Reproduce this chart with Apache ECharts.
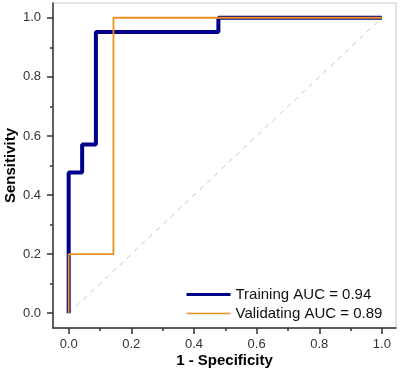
<!DOCTYPE html>
<html>
<head>
<meta charset="utf-8">
<script src="https://cdn.jsdelivr.net/npm/echarts@6/dist/echarts.min.js"></script>
<style>
  html, body { margin: 0; padding: 0; background: #fff; }
  #main { width: 400px; height: 370px; }
</style>
</head>
<body>
<div id="main"></div>
<script>
// ROC curves as [1 - specificity, sensitivity] step points
var trainingName = 'Training AUC = 0.94';
var trainingPoints = [
    [0, 0], [0, 0.476], [0.043, 0.476], [0.043, 0.571], [0.087, 0.571],
    [0.087, 0.952], [0.478, 0.952], [0.478, 1.0], [1, 1]
];
var validatingName = 'Validating AUC = 0.89';
var validatingPoints = [
    [0, 0], [0, 0.2], [0.143, 0.2], [0.143, 1.0], [1, 1]
];
var diagonalPoints = [[0, 0], [1, 1]];
var majorTicks = [0, 0.2, 0.4, 0.6, 0.8, 1.0];
var minorTicks = [0.1, 0.3, 0.5, 0.7, 0.9];

function drawRocChart() {
    var chartDom = document.getElementById('main');
    var myChart = echarts.init(chartDom);
    var option;

    var font = 'Liberation Sans, Arial, sans-serif';

    // axis with line, labels and name
    function mainAxis(name, isX) {
        return {
            type: 'value',
            min: -0.05,
            max: isX ? 1.045 : 1.05,
            position: isX ? 'bottom' : 'left',
            name: name,
            nameLocation: 'middle',
            nameMoveOverlap: false,
            nameGap: isX ? 25 : 35,
            nameTextStyle: { fontFamily: font, fontSize: 15, fontWeight: 'bold', color: '#000' },
            axisLine: { show: true, onZero: false, lineStyle: { color: '#333', width: 1.5 } },
            axisTick: { show: false },
            axisLabel: {
                customValues: majorTicks,
                margin: isX ? 10 : 12,
                fontFamily: font,
                fontSize: 13,
                color: '#333',
                formatter: function (v) { return v.toFixed(1); }
            },
            splitLine: { show: false }
        };
    }

    // extra axis that only draws ticks
    function tickAxis(isX, ticks, len) {
        return {
            type: 'value',
            min: -0.05,
            max: isX ? 1.045 : 1.05,
            position: isX ? 'bottom' : 'left',
            axisLine: { show: false, onZero: false },
            axisTick: { show: true, length: len, customValues: ticks, lineStyle: { color: '#333', width: 1.5 } },
            axisLabel: { show: false },
            splitLine: { show: false }
        };
    }

    option = {
        backgroundColor: '#fff',
        animation: false,
        grid: {
            left: 53, right: 4, top: 3, bottom: 42,
            outerBoundsMode: 'none',
            containLabel: false,
            show: true,
            borderColor: '#c8c8c8',
            borderWidth: 1
        },
        legend: {
            orient: 'vertical',
            left: 180,
            top: 282,
            itemWidth: 44,
            itemHeight: 14,
            itemGap: 4,
            itemStyle: { color: 'transparent', borderWidth: 0 },
            textStyle: { fontFamily: font, fontSize: 15, color: '#111' },
            data: [
                { name: trainingName, lineStyle: { width: 3 } },
                { name: validatingName, lineStyle: { width: 1.5 } }
            ]
        },
        xAxis: [mainAxis('1 - Specificity', true), tickAxis(true, majorTicks, 6), tickAxis(true, minorTicks, 3)],
        yAxis: [mainAxis('Sensitivity', false), tickAxis(false, majorTicks, 6), tickAxis(false, minorTicks, 3)],
        series: [
            {
                name: 'diagonal',
                type: 'line',
                symbol: 'none',
                silent: true,
                data: diagonalPoints,
                lineStyle: { color: '#c8c8c8', width: 1, type: [5, 5] },
                z: 1
            },
            {
                name: trainingName,
                type: 'line',
                symbol: 'none',
                data: trainingPoints,
                lineStyle: { color: '#00008b', width: 4 },
                itemStyle: { color: '#00008b' },
                z: 2
            },
            {
                name: validatingName,
                type: 'line',
                symbol: 'none',
                data: validatingPoints,
                lineStyle: { color: '#e8931f', width: 1.8 },
                itemStyle: { color: '#e8931f' },
                z: 3
            }
        ]
    };

    option && myChart.setOption(option);
}

drawRocChart();
</script>
</body>
</html>
